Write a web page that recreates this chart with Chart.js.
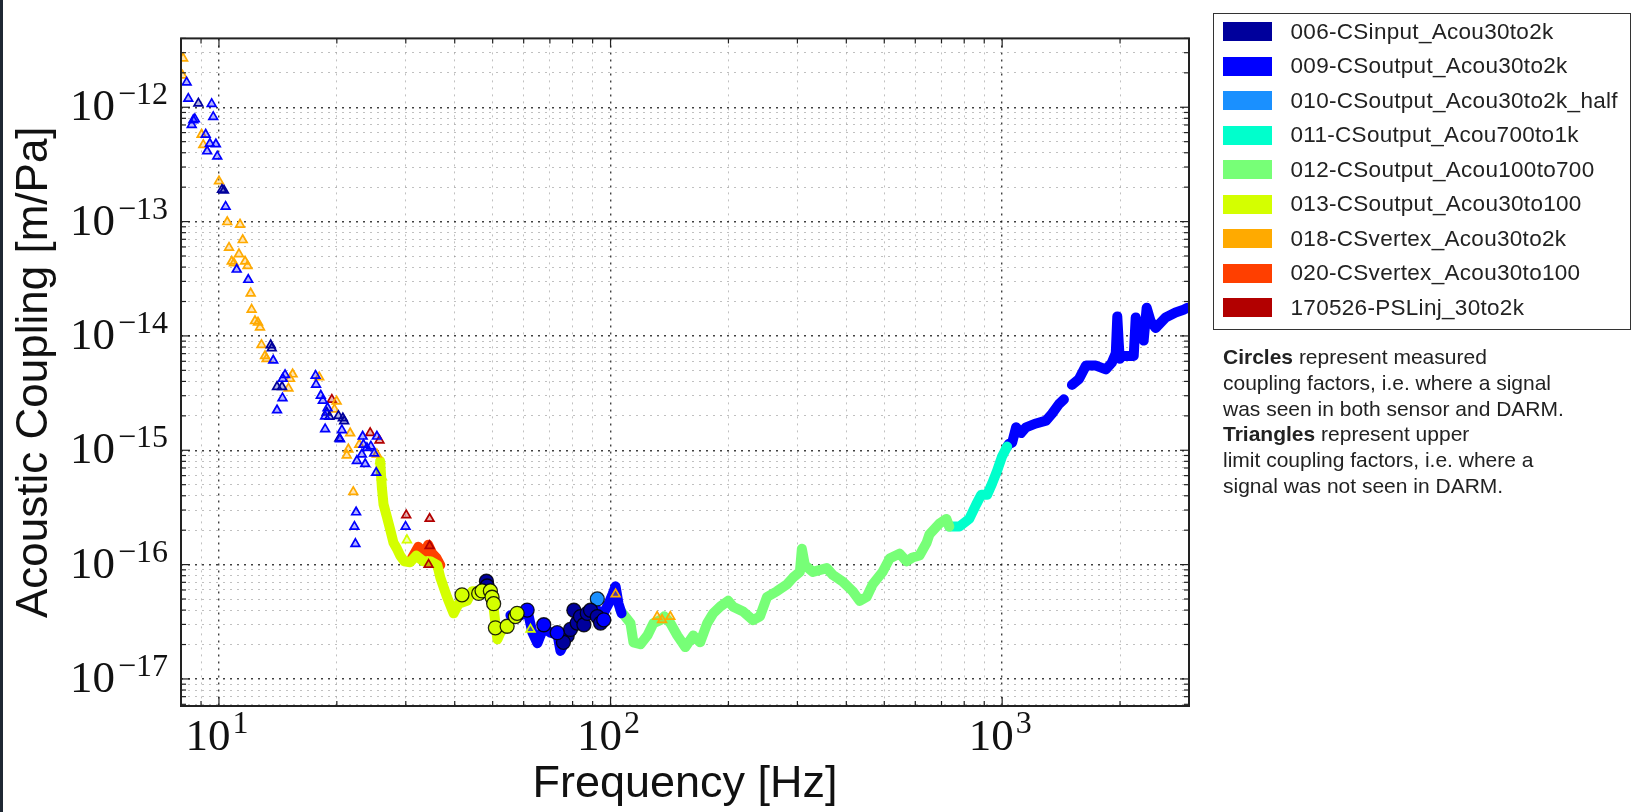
<!DOCTYPE html>
<html>
<head>
<meta charset="utf-8">
<script src="https://cdn.jsdelivr.net/npm/chart.js@4.4.1/dist/chart.umd.min.js"></script>
<style>
html,body{margin:0;padding:0;background:#fff;}
#wrap{position:relative;width:1634px;height:812px;overflow:hidden;background:#fff;}
#edge{position:absolute;left:0;top:0;width:3px;height:812px;background:#1f2833;}
#c{position:absolute;left:0;top:0;}
#legend{position:absolute;left:1213px;top:13px;width:416px;height:315px;border:1.5px solid #333;
  font-family:"Liberation Sans",Arial,sans-serif;font-size:22.5px;letter-spacing:0.3px;color:#222;}
.row{position:absolute;left:0;height:34.5px;display:flex;align-items:center;white-space:nowrap;}
.sw{width:49px;height:19px;margin-left:8.5px;margin-right:19px;}
#note{position:absolute;left:1223px;top:344px;font-family:"Liberation Sans",Arial,sans-serif;font-size:21px;
  line-height:25.8px;color:#222;white-space:pre;}
</style>
</head>
<body>
<div id="wrap">
  <canvas id="c" width="1634" height="812"></canvas>
  <div id="edge"></div>
  <div id="legend"></div>
  <div id="note"></div>
</div>
<script>
// ---------------- DATA ----------------
const LEGEND_NAMES = [
  '006-CSinput_Acou30to2k', '009-CSoutput_Acou30to2k', '010-CSoutput_Acou30to2k_half',
  '011-CSoutput_Acou700to1k', '012-CSoutput_Acou100to700', '013-CSoutput_Acou30to100',
  '018-CSvertex_Acou30to2k', '020-CSvertex_Acou30to100', '170526-PSLinj_30to2k'
];

const X_TICK_VALUES = [10, 100, 1000];
const X_TICK_LABELS = ['10\u00B9', '10\u00B2', '10\u00B3'];
const Y_TICK_VALUES = [1e-17, 1e-16, 1e-15, 1e-14, 1e-13, 1e-12];
const Y_TICK_LABELS = ['10\u207B\u00B9\u2077', '10\u207B\u00B9\u2076', '10\u207B\u00B9\u2075',
                       '10\u207B\u00B9\u2074', '10\u207B\u00B9\u00B3', '10\u207B\u00B9\u00B2'];

const X_TITLE = 'Frequency [Hz]';
const Y_TITLE = 'Acoustic Coupling [m/Pa]';

// upper-limit coupling factors (triangles): [frequency Hz, coupling m/Pa]
const TRI_006 = [[8.86,1.08e-12],[10.18,1.90e-13],[10.30,1.87e-13],[13.56,8.32e-15],[13.64,7.80e-15],
  [14.07,3.59e-15],[14.49,3.59e-15],[18.85,2.14e-15],[19.14,1.97e-15],[20.19,2.00e-15],[20.72,1.91e-15],
  [20.88,1.80e-15],[20.30,1.27e-15]];
const TRI_009 = [[8.27,1.65e-12],[8.35,1.19e-12],[9.58,1.07e-12],[9.67,8.24e-13],[8.60,7.73e-13],[8.52,7.01e-13],
  [8.68,7.88e-13],[9.25,5.77e-13],[9.48,4.81e-13],[9.82,4.75e-13],[9.33,4.12e-13],[9.90,3.72e-13],[10.40,1.35e-13],
  [11.10,3.81e-14],[11.88,3.10e-14],[13.76,6.10e-15],[14.75,4.56e-15],[14.55,4.22e-15],[14.53,2.86e-15],
  [14.07,2.24e-15],[17.65,4.50e-15],[17.70,3.75e-15],[18.20,3.01e-15],[18.42,2.72e-15],[18.94,2.34e-15],
  [18.67,1.98e-15],[18.67,1.53e-15],[20.39,1.25e-15],[20.60,1.50e-15],[23.28,1.32e-15],[23.39,1.12e-15],
  [23.87,1.05e-15],[24.43,1.08e-15],[25.31,1.32e-15],[22.50,8.09e-16],[23.63,7.59e-16],[23.17,9.22e-16],
  [24.91,9.40e-16],[25.21,6.37e-16],[22.40,2.87e-16],[22.18,2.15e-16],[22.31,1.52e-16],[29.96,2.15e-16]];
const TRI_013 = [[25.81,8.09e-16],[26.07,5.82e-16],[30.20,1.64e-16],[62.45,2.71e-17]];
const TRI_018 = [[8.10,2.68e-12],[8.07,1.90e-12],[9.03,5.77e-13],[9.12,4.69e-13],[10.0,2.26e-13],[10.50,9.92e-14],
  [11.32,9.42e-14],[11.50,6.90e-14],[10.61,5.91e-14],[11.25,5.20e-14],[10.78,4.48e-14],[10.92,4.33e-14],
  [11.66,4.48e-14],[11.83,4.10e-14],[12.05,2.36e-14],[12.12,1.70e-14],[12.36,1.35e-14],[12.58,1.31e-14],
  [12.73,1.19e-14],[12.84,8.35e-15],[13.11,6.68e-15],[13.23,6.30e-15],[15.42,4.62e-15],[15.19,4.22e-15],
  [15.05,3.48e-15],[18.03,4.36e-15],[19.98,2.68e-15],[19.72,2.28e-15],[21.63,1.41e-15],[22.82,1.12e-15],
  [21.40,1.02e-15],[21.20,9.04e-16],[25.31,9.22e-16],[22.03,4.32e-16],[103.0,5.52e-17],[131.5,3.51e-17],
  [135.4,3.29e-17],[142.1,3.51e-17]];
const TRI_170526 = [[19.42,2.77e-15],[24.33,1.42e-15],[25.70,1.22e-15],[30.08,2.71e-16],[34.51,2.52e-16],
  [34.51,1.46e-16],[34.30,1.00e-16]];

// measured coupling factors (circles)
const CIR_006 = [[48.19,7.15e-17],[48.4,6.5e-17],[77.5,2.38e-17],[79.0,2.71e-17],[80.6,3.99e-17],[82.2,3.08e-17],
  [83.8,3.51e-17],[85.5,2.98e-17],[87.2,3.75e-17],[88.9,3.99e-17],[92.5,3.51e-17],[94.3,3.08e-17],[75.8,2.09e-17]];
const CIR_009 = [[61.24,4.0e-17],[67.52,2.98e-17],[73.08,2.54e-17],[96.1,3.29e-17]];
const CIR_010 = [[92.5,5.01e-17]];
const CIR_013 = [[41.75,5.44e-17],[46.05,5.60e-17],[46.98,5.89e-17],[49.33,5.89e-17],[49.82,5.18e-17],
  [50.29,4.55e-17],[50.80,2.80e-17],[54.44,2.89e-17],[57.15,3.51e-17],[57.73,3.75e-17]];

// dense measured traces (drawn as thick bands)
const BAND_013 = [[25.8,8.04e-16],[26.07,4.67e-16],[26.32,3.36e-16],[26.85,2.61e-16],[27.37,2.03e-16],
  [27.91,1.55e-16],[28.47,1.38e-16],[29.03,1.20e-16],[29.72,1.07e-16],[30.79,1.05e-16],[31.9,1.20e-16],
  [33.24,1.07e-16],[34.64,1.07e-16],[36.11,9.89e-17],[36.75,7.68e-17],[38.22,5.21e-17],[39.74,3.75e-17],
  [40.93,4.55e-17],[43.0,4.82e-17],[44.29,5.85e-17],[46.5,5.85e-17],[48.47,6.32e-17],[49.9,5.31e-17],
  [50.8,3.08e-17],[51.4,2.22e-17],[52.32,2.54e-17],[53.88,2.91e-17]];
const BAND_020 = [[31.15,1.15e-16],[32.28,1.43e-16],[33.44,1.27e-16],[34.23,1.49e-16],[35.06,1.25e-16],
  [35.89,1.15e-16],[36.75,9.89e-17]];
const BAND_009_LOW = [[55.5,3.6e-17],[58.86,3.6e-17],[61.35,3.97e-17],[63.17,2.54e-17],[65.06,2.05e-17],
  [67.4,2.8e-17],[70.23,2.54e-17],[73.19,2.44e-17],[74.49,1.76e-17],[76.28,2.09e-17],[78.1,2.44e-17],
  [81.39,3.21e-17],[86.33,3.75e-17],[91.53,4.05e-17],[95.96,3.75e-17],[98.83,4.55e-17],[101.2,5.52e-17],
  [103.0,6.45e-17],[104.8,4.55e-17],[106.7,3.75e-17]];
const BAND_012 = [[106.0,3.97e-17],[109.8,3.40e-17],[112.4,3.08e-17],[114.4,2.09e-17],[119.2,2.01e-17],
  [124.2,2.40e-17],[128.7,3.08e-17],[134.0,3.27e-17],[137.2,3.53e-17],[142.1,3.08e-17],[148.1,2.40e-17],
  [155.2,1.90e-17],[162.6,2.40e-17],[169.4,2.09e-17],[176.6,3.08e-17],[182.8,3.75e-17],[190.5,4.29e-17],
  [199.7,4.82e-17],[205.6,4.29e-17],[218.0,3.89e-17],[231.1,3.27e-17],[240.8,3.53e-17],[250.9,5.21e-17],
  [266.0,5.85e-17],[282.1,6.71e-17],[292.2,7.68e-17],[304.4,8.63e-17],[308.0,1.375e-16],[313.5,9.89e-17],
  [328.5,8.63e-17],[356.6,9.32e-17],[369.3,8.14e-17],[391.6,7.11e-17],[415.3,5.85e-17],[432.7,4.82e-17],
  [450.8,5.21e-17],[467.0,6.71e-17],[495.2,8.63e-17],[516.0,1.13e-16],[547.0,1.248e-16],[569.9,1.068e-16],
  [590.2,1.154e-16],[615.0,1.20e-16],[640.8,1.545e-16],[652.1,1.84e-16],[691.4,2.28e-16],[720.3,2.51e-16],
  [733.1,2.15e-16]];
const BAND_011 = [[733.1,2.15e-16],[777.2,2.15e-16],[824.1,2.51e-16],[858.6,3.36e-16],[884.2,4.08e-16],
  [915.8,4.08e-16],[943.2,5.15e-16],[971.1,6.63e-16],[1000,8.87e-16],[1029.7,1.077e-15]];
const BAND_009_HIGH_A = [[1029.7,1.077e-15],[1041.8,1.141e-15],[1060.3,1.164e-15],[1085.4,1.588e-15],
  [1117.8,1.413e-15],[1150.9,1.588e-15],[1220.4,1.716e-15],[1294.2,1.818e-15],[1340.5,2.084e-15],
  [1396.4,2.529e-15],[1438,2.787e-15]];
const BAND_009_HIGH_B = [[1507.3,3.73e-15],[1570.4,4.19e-15],[1636.3,5.5e-15],[1734.9,5.5e-15],[1839.6,5.09e-15],
  [1905.4,5.83e-15],[1950.7,7.08e-15],[1967.9,1.48e-14],[1985.2,8.6e-15],[1996.9,6.3e-15],[2020.1,6.68e-15],
  [2167.6,6.68e-15],[2192.9,1.45e-14],[2231.6,1.085e-14],[2258,1.267e-14],[2297.9,9.11e-15],[2338.8,1.763e-14],
  [2394.1,1.343e-14],[2465.7,1.172e-14],[2614.5,1.45e-14],[2772.1,1.603e-14],[2905.4,1.695e-14],[2974.5,1.763e-14]];

const NOTE_LINES = [
  ['Circles', ' represent measured'],
  ['', 'coupling factors, i.e. where a signal'],
  ['', 'was seen in both sensor and DARM.'],
  ['Triangles', ' represent upper'],
  ['', 'limit coupling factors, i.e. where a'],
  ['', 'signal was not seen in DARM.']
];

// ---------------- STYLE ----------------
const COLORS = ['#00009c', '#0000ff', '#1a90ff', '#00ffcc', '#77ff77', '#d4ff00', '#ffaa00', '#ff3f00', '#b20000'];
const C = {};
['006','009','010','011','012','013','018','020','170526'].forEach((k, i) => C[k] = COLORS[i]);

function hexA(hex, a) {
  const n = parseInt(hex.slice(1), 16);
  return `rgba(${(n >> 16) & 255},${(n >> 8) & 255},${n & 255},${a})`;
}
const toXY = arr => arr.map(p => ({x: p[0], y: p[1]}));

function band(data, color) {
  return {data: toXY(data), showLine: true, borderColor: color, backgroundColor: color, borderWidth: 10,
    pointRadius: 0, pointHoverRadius: 0, borderJoinStyle: 'round', borderCapStyle: 'round', order: 3, clip: 0};
}
function tri(data, color) {
  return {data: toXY(data), showLine: false, pointStyle: 'triangle', pointRadius: 5, borderWidth: 1.7,
    borderColor: color, backgroundColor: hexA(color, 0.3), order: 2, clip: 0};
}
function cir(data, color) {
  return {data: toXY(data), showLine: false, pointStyle: 'circle', pointRadius: 7, borderWidth: 1.3,
    borderColor: 'rgba(0,0,0,0.85)', backgroundColor: color, order: 1, clip: 0};
}

const datasets = [
  cir(CIR_013, C['013']), cir(CIR_009, C['009']), cir(CIR_006, C['006']), cir(CIR_010, C['010']),
  tri(TRI_009, C['009']), tri(TRI_006, C['006']), tri(TRI_018, C['018']), tri(TRI_013, C['013']),
  tri(TRI_170526, C['170526']),
  band(BAND_013, C['013']), band(BAND_020, C['020']), band(BAND_009_LOW, C['009']),
  band(BAND_012, C['012']), band(BAND_011, C['011']), band(BAND_009_HIGH_A, C['009']), band(BAND_009_HIGH_B, C['009'])
];

function logTicks(min, max) {
  const out = [];
  for (let e = Math.floor(Math.log10(min)); e <= Math.ceil(Math.log10(max)); e++) {
    for (let m = 1; m <= 9; m++) {
      const v = m * Math.pow(10, e);
      if (v >= min * 0.9999 && v <= max * 1.0001) out.push(v);
    }
  }
  return out;
}
const isMajor = v => Math.abs(Math.log10(v) - Math.round(Math.log10(v))) < 1e-6;
function labelFor(v, vals, labels) {
  for (let i = 0; i < vals.length; i++) {
    if (Math.abs(Math.log10(v) - Math.log10(vals[i])) < 1e-6) return labels[i];
  }
  return '';
}
// split "10⁻¹²" into base "10" and exponent "−12" for math-style drawing
const SUP = {'\u207B': '\u2212', '\u00B9': '1', '\u00B2': '2', '\u00B3': '3', '\u2070': '0', '\u2074': '4',
  '\u2075': '5', '\u2076': '6', '\u2077': '7', '\u2078': '8', '\u2079': '9'};
const splitLabel = s => [s.slice(0, 2), Array.from(s.slice(2)).map(ch => SUP[ch] || ch).join('')];

const X_MIN = 8, X_MAX = 3000, Y_MIN = 5.8e-18, Y_MAX = 4e-12;

const gridColor = ctx => (ctx.tick && isMajor(ctx.tick.value)) ? 'rgba(30,30,30,0.85)' : 'rgba(140,140,140,0.55)';
const gridWidth = ctx => (ctx.tick && isMajor(ctx.tick.value)) ? 1.4 : 1;

const BASE_FONT = '45px "Liberation Serif", serif';
const EXP_FONT = '32px "Liberation Serif", serif';

const framePlugin = {
  id: 'frame',
  afterDatasetsDraw(chart) {
    const {ctx, chartArea: a, scales} = chart;
    ctx.save();
    ctx.strokeStyle = '#222';
    ctx.lineWidth = 1.2;
    scales.x.ticks.forEach(t => {
      const px = scales.x.getPixelForValue(t.value);
      const L = isMajor(t.value) ? 9 : 5;
      ctx.beginPath(); ctx.moveTo(px, a.bottom); ctx.lineTo(px, a.bottom - L); ctx.stroke();
      ctx.beginPath(); ctx.moveTo(px, a.top); ctx.lineTo(px, a.top + L); ctx.stroke();
    });
    scales.y.ticks.forEach(t => {
      const py = scales.y.getPixelForValue(t.value);
      const L = isMajor(t.value) ? 9 : 5;
      ctx.beginPath(); ctx.moveTo(a.left, py); ctx.lineTo(a.left + L, py); ctx.stroke();
      ctx.beginPath(); ctx.moveTo(a.right, py); ctx.lineTo(a.right - L, py); ctx.stroke();
    });
    ctx.lineWidth = 2;
    ctx.strokeRect(a.left, a.top, a.right - a.left, a.bottom - a.top);
    ctx.restore();
  },
  afterDraw(chart) {
    // math-style tick labels (base 10 with raised exponent)
    const {ctx, chartArea: a, scales} = chart;
    ctx.save();
    ctx.fillStyle = '#111';
    ctx.textBaseline = 'alphabetic';
    ctx.textAlign = 'left';
    Y_TICK_VALUES.forEach((v, i) => {
      const py = scales.y.getPixelForValue(v);
      const [b, e] = splitLabel(Y_TICK_LABELS[i]);
      ctx.font = EXP_FONT; const we = ctx.measureText(e).width;
      ctx.font = BASE_FONT; const wb = ctx.measureText(b).width;
      const xr = a.left - 13;
      ctx.fillText(b, xr - we - wb - 3, py + 13);
      ctx.font = EXP_FONT; ctx.fillText(e, xr - we, py - 3);
    });
    X_TICK_VALUES.forEach((v, i) => {
      const px = scales.x.getPixelForValue(v);
      const [b, e] = splitLabel(X_TICK_LABELS[i]);
      ctx.font = EXP_FONT; const we = ctx.measureText(e).width;
      ctx.font = BASE_FONT; const wb = ctx.measureText(b).width;
      const x0 = px - (wb + we + 2) / 2 - 2;
      ctx.fillText(b, x0, a.bottom + 44);
      ctx.font = EXP_FONT; ctx.fillText(e, x0 + wb + 2, a.bottom + 27);
    });
    ctx.restore();
  }
};

new Chart(document.getElementById('c'), {
  type: 'scatter',
  data: {datasets},
  plugins: [framePlugin],
  options: {
    responsive: false, animation: false, devicePixelRatio: 1,
    layout: {padding: {left: 0, top: 13, right: 445, bottom: 0}},
    plugins: {legend: {display: false}, tooltip: {enabled: false}},
    events: [],
    scales: {
      x: {
        type: 'logarithmic', position: 'bottom', min: X_MIN, max: X_MAX,
        afterBuildTicks: s => { s.ticks = logTicks(X_MIN, X_MAX).map(v => ({value: v})); },
        afterFit: s => { s.height = 106; },
        grid: {color: gridColor, lineWidth: gridWidth, drawTicks: false, borderDash: [2, 5]},
        border: {display: false, dash: [2, 5]},
        ticks: {autoSkip: false, maxRotation: 0, minRotation: 0, padding: 2, color: 'rgba(0,0,0,0)',
          font: {family: 'Liberation Serif', size: 44},
          callback: v => labelFor(v, X_TICK_VALUES, X_TICK_LABELS)},
        title: {display: true, text: X_TITLE, color: '#111', padding: {top: 0, bottom: 0},
          font: {family: 'Liberation Sans', size: 45}}
      },
      y: {
        type: 'logarithmic', position: 'left', min: Y_MIN, max: Y_MAX,
        afterBuildTicks: s => { s.ticks = logTicks(Y_MIN, Y_MAX).map(v => ({value: v})); },
        afterFit: s => { s.width = 181; },
        grid: {color: gridColor, lineWidth: gridWidth, drawTicks: false, borderDash: [2, 5]},
        border: {display: false, dash: [2, 5]},
        ticks: {autoSkip: false, padding: 12, color: 'rgba(0,0,0,0)',
          font: {family: 'Liberation Serif', size: 44},
          callback: v => labelFor(v, Y_TICK_VALUES, Y_TICK_LABELS)},
        title: {display: true, text: Y_TITLE, color: '#111', padding: {top: 8, bottom: 0},
          font: {family: 'Liberation Sans', size: 44}}
      }
    }
  }
});

// legend and note (HTML text)
const leg = document.getElementById('legend');
LEGEND_NAMES.forEach((name, i) => {
  const row = document.createElement('div');
  row.className = 'row';
  row.style.top = (0.55 + 34.5 * i) + 'px';
  const sw = document.createElement('div');
  sw.className = 'sw';
  sw.style.background = COLORS[i];
  const tx = document.createElement('span');
  tx.textContent = name;
  row.appendChild(sw); row.appendChild(tx);
  leg.appendChild(row);
});
const note = document.getElementById('note');
NOTE_LINES.forEach(([b, r]) => {
  const line = document.createElement('div');
  if (b) { const bb = document.createElement('b'); bb.textContent = b; line.appendChild(bb); }
  line.appendChild(document.createTextNode(r));
  note.appendChild(line);
});
</script>
</body>
</html>
